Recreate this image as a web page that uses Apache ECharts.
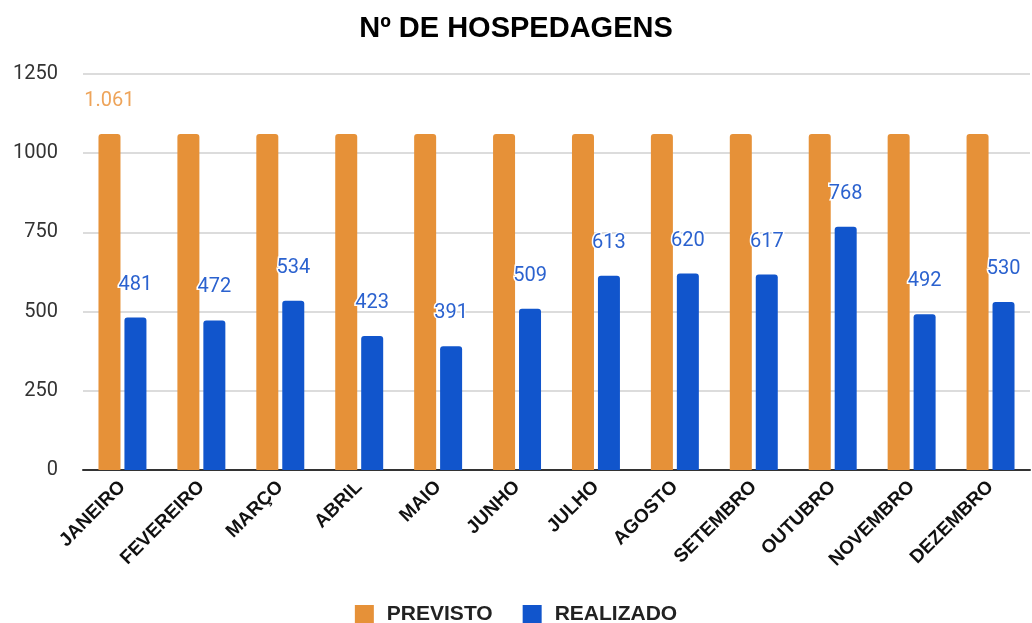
<!DOCTYPE html>
<html>
<head>
<meta charset="utf-8">
<script src="https://cdn.jsdelivr.net/npm/echarts@6/dist/echarts.min.js"></script>
<style>
  html, body { margin: 0; padding: 0; background: #fff; }
  #chart { width: 1032px; height: 623px; }
</style>
</head>
<body>
<div id="chart"></div>
<script>
// dados do gráfico
var meses = ['JANEIRO', 'FEVEREIRO', 'MARÇO', 'ABRIL', 'MAIO', 'JUNHO',
             'JULHO', 'AGOSTO', 'SETEMBRO', 'OUTUBRO', 'NOVEMBRO', 'DEZEMBRO'];
var previsto = [1061, 1061, 1061, 1061, 1061, 1061, 1061, 1061, 1061, 1061, 1061, 1061];
var realizado = [481, 472, 534, 423, 391, 509, 613, 620, 617, 768, 492, 530];
var eixoY = [0, 250, 500, 750, 1000, 1250];

var myChart = echarts.init(document.getElementById('chart'));

// só o primeiro valor previsto leva rótulo
var previstoDados = previsto.map(function (v, i) {
    return i === 0 ? { value: v, label: { show: true } } : v;
});

var option = {
    animation: false,
    title: {
        text: 'Nº DE HOSPEDAGENS',
        left: 'center',
        top: 9,
        textStyle: { fontFamily: 'Liberation Sans', fontWeight: 'bold', fontSize: 29, color: '#000' }
    },
    legend: {
        top: 599,
        left: 'center',
        itemWidth: 19,
        itemHeight: 19,
        itemGap: 30,
        icon: 'rect',
        textStyle: { fontFamily: 'Liberation Sans', fontWeight: 'bold', fontSize: 21, color: '#222', padding: [0, 0, 0, 8] },
        data: ['PREVISTO', 'REALIZADO']
    },
    grid: { left: 83, right: 2, top: 74, bottom: 153 },
    xAxis: {
        type: 'category',
        data: meses,
        axisTick: { show: false },
        axisLine: { lineStyle: { color: '#333', width: 2 } },
        axisLabel: {
            rotate: 45,
            interval: 0,
            margin: 14,
            fontFamily: 'Liberation Sans',
            fontWeight: 'bold',
            fontSize: 19,
            color: '#111'
        }
    },
    yAxis: {
        type: 'value',
        min: eixoY[0],
        max: eixoY[eixoY.length - 1],
        interval: 250,
        axisLabel: {
            fontFamily: 'Roboto',
            fontSize: 20,
            color: '#333',
            margin: 25,
            formatter: function (v) { return String(v); }
        },
        splitLine: { lineStyle: { color: '#d0d0d0', width: 1.5 } }
    },
    series: [{
        name: 'PREVISTO',
        type: 'bar',
        data: previstoDados,
        barWidth: 22,
        barGap: '18%',
        itemStyle: { color: '#e69138', borderRadius: [3, 3, 0, 0] },
        label: {
            show: false,
            position: 'top',
            distance: 23,
            fontFamily: 'Roboto',
            fontSize: 20,
            color: '#eea45a',
            formatter: function (p) { return (p.value / 1000).toFixed(3); }
        }
    }, {
        name: 'REALIZADO',
        type: 'bar',
        data: realizado,
        barWidth: 22,
        itemStyle: { color: '#1155cc', borderRadius: [3, 3, 0, 0] },
        label: {
            show: true,
            position: 'top',
            distance: 23,
            fontFamily: 'Roboto',
            fontSize: 20,
            color: '#2b62cf',
            textBorderColor: '#fff',
            textBorderWidth: 3
        }
    }]
};

myChart.setOption(option);
</script>
</body>
</html>
